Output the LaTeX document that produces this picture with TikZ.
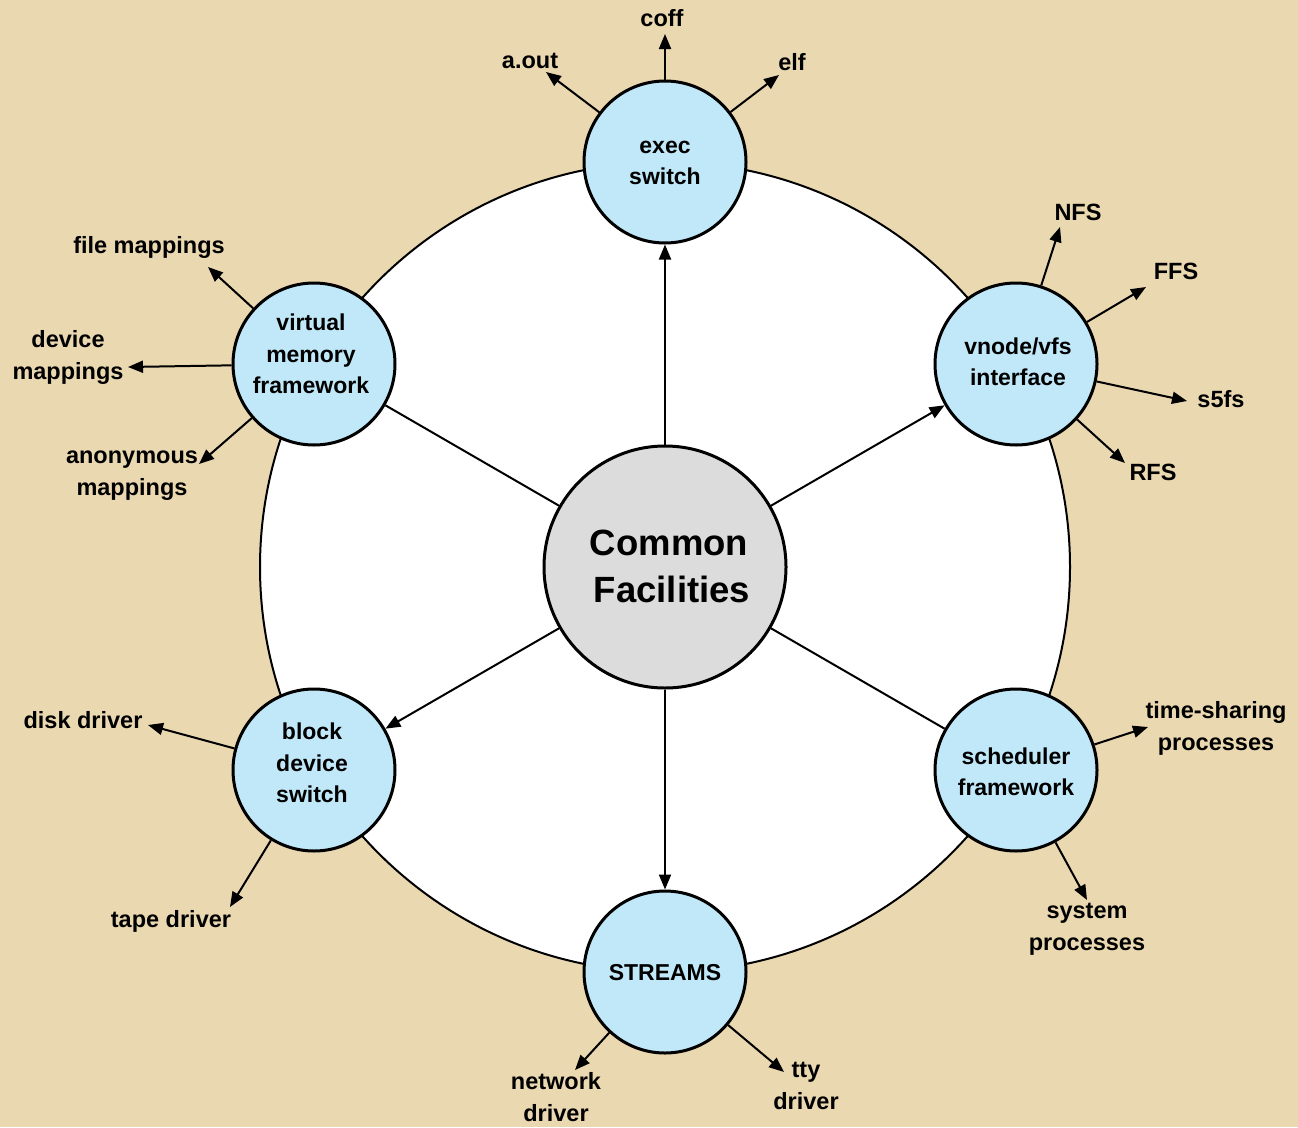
\documentclass[tikz,border=0pt]{standalone}
\usepackage{fontspec}
\setmainfont{Liberation Sans}
\usetikzlibrary{arrows.meta}
\definecolor{parch}{RGB}{234,216,176}
\definecolor{bluefill}{RGB}{192,232,248}
\definecolor{grayfill}{RGB}{220,220,220}
\begin{document}
\begin{tikzpicture}[x=1pt,y=-1pt,
  subc/.style={circle,draw,line width=3pt,fill=bluefill,minimum size=162pt,inner sep=0pt},
  intxt/.style={align=center,inner sep=0pt,font=\fontsize{23}{31.5}\selectfont\bfseries},
  lbl/.style={align=center,inner sep=0pt,font=\fontsize{23.5}{32}\selectfont\bfseries},
  arr/.style={line width=2pt,-{Triangle[length=15pt,width=12pt]}},
  link/.style={line width=2pt}]
\useasboundingbox (0,0) rectangle (1298,1127);
\fill[parch] (0,0) rectangle (1298,1127);
% ring
\node[circle,draw,line width=2pt,fill=white,minimum size=810pt,inner sep=0pt] (ring) at (665,567) {};
% centre
\node[circle,draw,line width=3pt,fill=grayfill,minimum size=242pt,inner sep=0pt] (cf) at (665,567) {};
\node[intxt,font=\fontsize{36.5}{47}\selectfont\bfseries] (cft) at (669,566) {Common\\\hspace*{6pt}Facilities};
% sub circles
\node[subc] (exec) at (665,162) {};
\node[subc] (vnode) at (1016,364) {};
\node[subc] (sched) at (1016,770) {};
\node[subc] (streams) at (665,972) {};
\node[subc] (block) at (314,770) {};
\node[subc] (vm) at (314,364) {};
\node[intxt] (exect) at (665,163) {exec\\switch};
\node[intxt] (vnodet) at (1018,362) {vnode/vfs\\interface};
\node[intxt] (schedt) at (1016,772) {scheduler\\framework};
\node[intxt] (streamst) at (665,973) {STREAMS};
\node[intxt] (blockt) at (312,763) {block\\device\\switch};
\node[intxt] (vmt) at (311,354) {virtual\\memory\\framework};
% centre connectors
\draw[arr] (cf) -- (exec);
\draw[arr] (cf) -- (vnode);
\draw[link] (cf) -- (sched);
\draw[arr] (cf) -- (streams);
\draw[arr] (cf) -- (block);
\draw[link] (cf) -- (vm);
% outer labels
\node[lbl] (aout) at (530,61) {a.out};
\node[lbl] (coff) at (662,18) {coff};
\node[lbl] (elf) at (792,62) {elf};
\node[lbl] (nfs) at (1078,212) {NFS};
\node[lbl] (ffs) at (1176,271) {FFS};
\node[lbl] (s5fs) at (1221,399) {s5fs};
\node[lbl] (rfs) at (1153,472) {RFS};
\node[lbl] (ts) at (1216,728) {time-sharing\\processes};
\node[lbl] (sys) at (1087,929) {system\\processes};
\node[lbl] (tty) at (806,1086) {tty\\driver};
\node[lbl] (net) at (556,1097) {network\\driver};
\node[lbl] (tape) at (171,921) {tape driver};
\node[lbl] (disk) at (83,720) {disk driver};
\node[lbl] (anon) at (132,476) {anonymous\\mappings};
\node[lbl] (dev) at (68,357) {device\\mappings};
\node[lbl] (file) at (149,247) {file mappings};
% arrow tips
\coordinate (t-aout) at (546,72);
\coordinate (t-coff) at (665,34);
\coordinate (t-elf) at (779,75);
\coordinate (t-nfs) at (1060,227);
\coordinate (t-ffs) at (1146,287);
\coordinate (t-s5fs) at (1187,401);
\coordinate (t-rfs) at (1125,463);
\coordinate (t-ts) at (1148,727);
\coordinate (t-sys) at (1087,900);
\coordinate (t-tty) at (784,1072);
\coordinate (t-net) at (575,1070);
\coordinate (t-tape) at (230,907);
\coordinate (t-disk) at (148,725);
\coordinate (t-anon) at (199,464);
\coordinate (t-dev) at (128,367);
\coordinate (t-file) at (208,267);
\foreach \a/\b in {exec/aout,exec/coff,exec/elf,vnode/nfs,vnode/ffs,vnode/s5fs,vnode/rfs,sched/ts,sched/sys,streams/tty,streams/net,block/tape,block/disk,vm/anon,vm/dev,vm/file}
  \draw[arr] (\a) -- (t-\b);
\end{tikzpicture}
\end{document}
